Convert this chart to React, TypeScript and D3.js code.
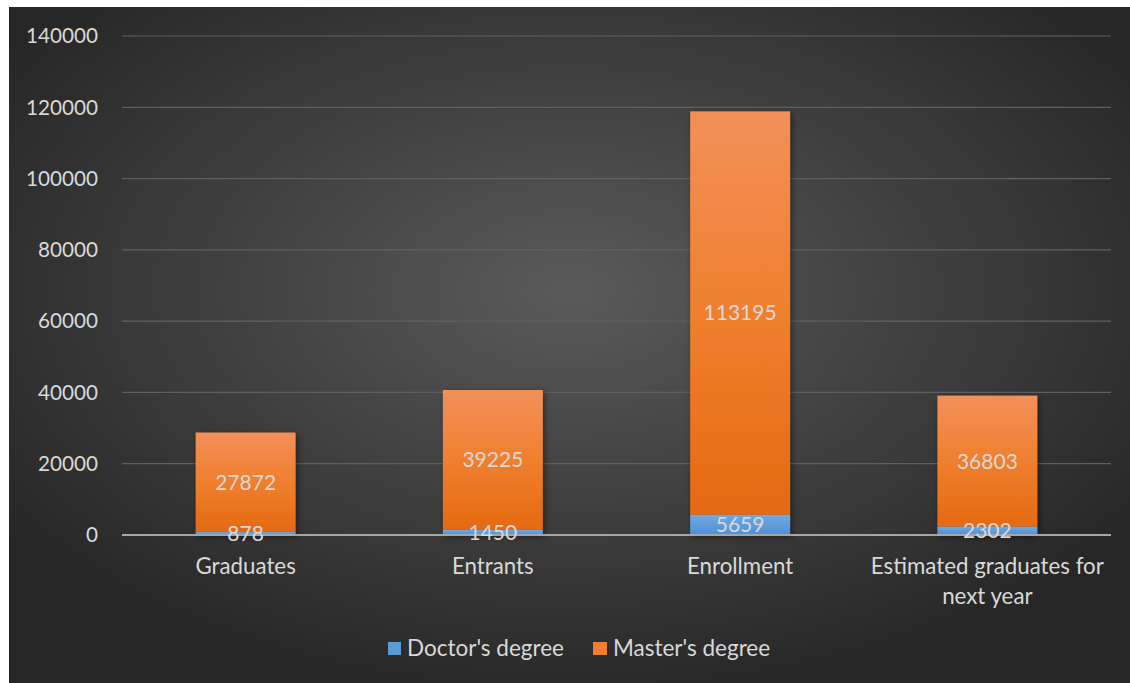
import React from "react";
import * as d3 from "d3";

const categories = ["Graduates", "Entrants", "Enrollment", "Estimated graduates for next year"];
const categoryLines = [["Graduates"], ["Entrants"], ["Enrollment"], ["Estimated graduates for", "next year"]];
const doctorValues = [878, 1450, 5659, 2302];
const masterValues = [27872, 39225, 113195, 36803];
const yTicks = [0, 20000, 40000, 60000, 80000, 100000, 120000, 140000];
const seriesNames = ["Doctor's degree", "Master's degree"];

const W = 1130;
const H = 683;
const FONT = "Lato, 'Open Sans', sans-serif";
const TEXT = "#d9d9d9";

export default function App() {
  const x = d3
    .scaleBand<string>()
    .domain(categories)
    .range([122, 1111])
    .paddingInner(0.596)
    .paddingOuter(0.298);
  const y = d3.scaleLinear().domain([0, 140000]).range([535, 36]);

  return (
    <svg
      width={W}
      height={H}
      style={{ position: "absolute", left: 0, top: 0, background: "#fff" }}
    >
      <defs>
        <radialGradient id="bg" cx="0.5" cy="0.42" r="0.62">
          <stop offset="0" stopColor="#5a5a5a" />
          <stop offset="1" stopColor="#262626" />
        </radialGradient>
        <linearGradient id="master" x1="0" y1="0" x2="0" y2="1">
          <stop offset="0" stopColor="#f2905a" />
          <stop offset="0.5" stopColor="#f07f2e" />
          <stop offset="1" stopColor="#e46a12" />
        </linearGradient>
        <linearGradient id="doctor" x1="0" y1="0" x2="0" y2="1">
          <stop offset="0" stopColor="#72a9e2" />
          <stop offset="1" stopColor="#4c90d8" />
        </linearGradient>
        <filter id="shadow" x="-20%" y="-20%" width="140%" height="140%">
          <feDropShadow dx="2" dy="2" stdDeviation="3" floodColor="#000" floodOpacity="0.45" />
        </filter>
      </defs>
      <rect x={9} y={7} width={W - 9} height={H - 7} fill="url(#bg)" />

      {/* gridlines */}
      {yTicks.slice(1).map((t) => (
        <line key={t} x1={122} x2={1111} y1={y(t)} y2={y(t)} stroke="#606060" strokeWidth={1.2} />
      ))}

      {/* y tick labels */}
      {yTicks.map((t) => (
        <text
          key={t}
          x={98}
          y={y(t)}
          dy="0.35em"
          textAnchor="end"
          fill={TEXT}
          fontFamily={FONT}
          fontSize={20.7}
        >
          {t}
        </text>
      ))}

      {/* stacked bars */}
      {categories.map((c, i) => {
        const bx = x(c)!;
        const bw = x.bandwidth();
        const d = doctorValues[i];
        const m = masterValues[i];
        return (
          <g key={c} filter="url(#shadow)">
            <rect x={bx} y={y(d + m)} width={bw} height={y(d) - y(d + m)} fill="url(#master)" />
            <rect x={bx} y={y(d)} width={bw} height={y(0) - y(d)} fill="url(#doctor)" />
          </g>
        );
      })}

      {/* axis line */}
      <line x1={122} x2={1111} y1={y(0)} y2={y(0)} stroke="#a6a6a6" strokeWidth={2} />

      {/* data labels */}
      {categories.map((c, i) => {
        const cx = x(c)! + x.bandwidth() / 2;
        const d = doctorValues[i];
        const m = masterValues[i];
        return (
          <g key={c} fill={TEXT} fontFamily={FONT} fontSize={21} textAnchor="middle">
            <text x={cx} y={(y(d) + y(d + m)) / 2} dy="0.35em">
              {m}
            </text>
            <text x={cx} y={(y(0) + y(d)) / 2} dy="0.35em">
              {d}
            </text>
          </g>
        );
      })}

      {/* category labels */}
      {categories.map((c, i) => {
        const cx = x(c)! + x.bandwidth() / 2;
        return (
          <text key={c} x={cx} fill={TEXT} fontFamily={FONT} fontSize={22.3} textAnchor="middle">
            {categoryLines[i].map((ln, k) => (
              <tspan key={k} x={cx} y={574 + k * 30}>
                {ln}
              </tspan>
            ))}
          </text>
        );
      })}

      {/* legend */}
      <g fontFamily={FONT} fontSize={22.5} fill={TEXT}>
        <rect x={388} y={642} width={13} height={13} fill="#5b9bd5" />
        <text x={407} y={648} dy="0.35em">
          {seriesNames[0]}
        </text>
        <rect x={593} y={642} width={14} height={13} fill="#f07f2e" />
        <text x={613} y={648} dy="0.35em">
          {seriesNames[1]}
        </text>
      </g>
    </svg>
  );
}
